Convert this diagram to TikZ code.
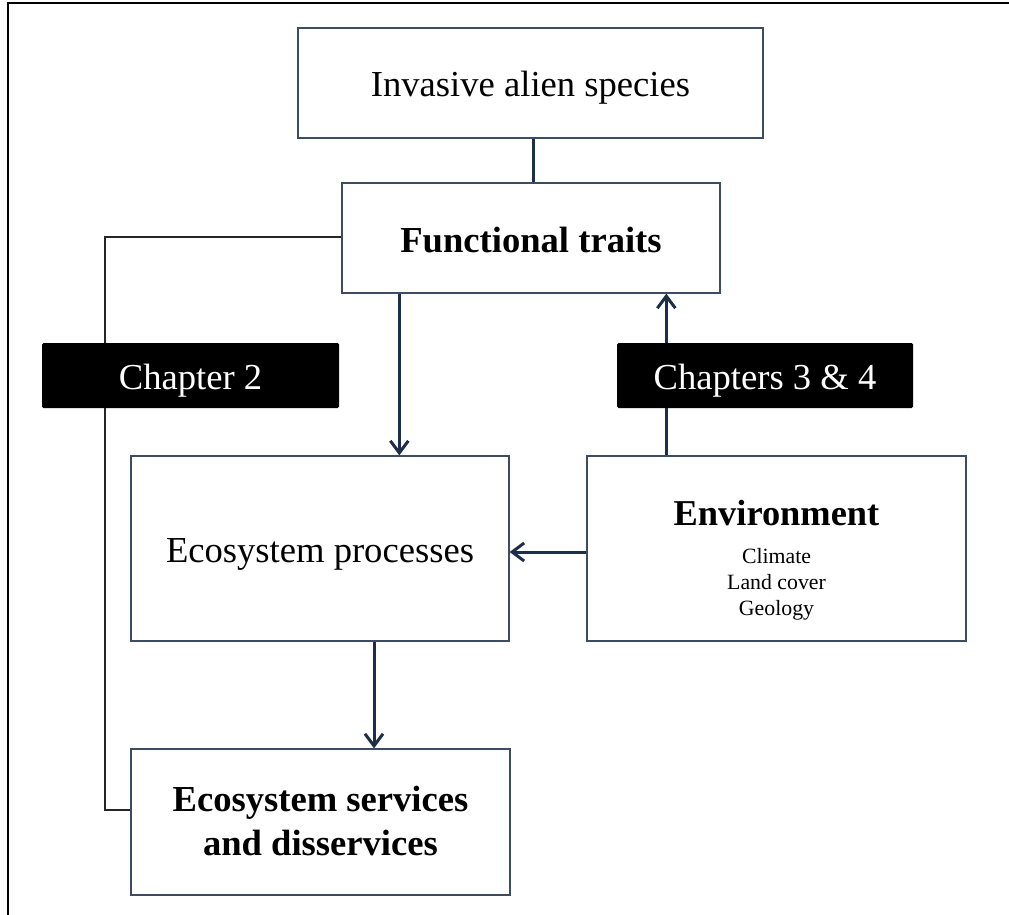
\documentclass[tikz,border=0pt]{standalone}
\usepackage{fontspec}
\setmainfont{Liberation Serif}
\usetikzlibrary{arrows.meta,calc}
\definecolor{boxline}{RGB}{62,76,98}
\definecolor{navy}{RGB}{28,46,74}
\begin{document}
\begin{tikzpicture}[x=1pt,y=-1pt,
  box/.style={draw=boxline,line width=1.3pt,fill=white,inner sep=0pt,
    text height=34pt,text depth=6pt,
    font=\fontsize{36.6}{44}\selectfont,align=center},
  chapbox/.style={fill=black,rounded corners=1.5pt,text=white,inner sep=0pt,
    text height=34pt,text depth=6pt,
    minimum width=297pt,minimum height=65pt,font=\fontsize{36.6}{44}\selectfont},
  link/.style={draw=navy,line width=3pt},
  arr/.style={link,-{Straight Barb[length=12pt,width=18pt]}},
  bracket/.style={draw=black!85,line width=2pt}]
\useasboundingbox (0,0) rectangle (1009,915);
% page frame
\draw[line width=2.2pt] (8,915) -- (8,3) -- (1009,3);

% boxes
\node[box,minimum width=465pt,minimum height=110pt] (ias) at (530.5,83) {Invasive alien species};
\node[box,minimum width=378pt,minimum height=110pt] (ft) at (531,238) {\bfseries Functional traits};
\node[box,minimum width=378pt,minimum height=185pt] (ep) at (320,548.5) {Ecosystem processes};
\node[box,minimum width=379pt,minimum height=185pt] (env) at (776.5,548.5) {};
\node[anchor=base,inner sep=0pt,font=\fontsize{36.4}{44}\selectfont\bfseries] (envt) at (776.5,525) {Environment};
\node[anchor=base,inner sep=0pt,align=center,font=\fontsize{21.8}{26}\selectfont] (envl) at (776.5,615) {Climate\\Land cover\\Geology};
\node[box,minimum width=379pt,minimum height=146pt] (es) at (320.5,822) {};
\node[anchor=base,inner sep=0pt,align=center,font=\fontsize{36.6}{43.3}\selectfont\bfseries] (est) at (320.5,855) {Ecosystem services\\and disservices};

% connectors
\coordinate (lx) at (105.3,0);
\coordinate (esin) at ([yshift=12pt]es.west);
\draw[bracket] ([yshift=1pt]ft.west) -- ([yshift=1pt]ft.west -| lx) -- (lx |- esin) -- (esin);
\draw[link] ([xshift=2.5pt]ias.south) -- ([xshift=2.5pt]ias.south |- ft.north);
\draw[arr] ([xshift=58pt]ft.south west) -- ([xshift=58pt]ft.south west |- ep.north);
\draw[arr] ([xshift=80pt]env.north west) -- ([xshift=80pt]env.north west |- ft.south);
\draw[arr] ([yshift=-3.5pt]env.west) -- ([yshift=-3.5pt]env.west -| ep.east);
\draw[arr] ([xshift=54pt]ep.south) -- ([xshift=54pt]ep.south |- es.north);

% chapter labels
\node[chapbox] (ch2) at (190.5,375.5) {Chapter 2};
\node[chapbox,minimum width=296pt] (ch34) at (765,375.5) {Chapters 3 \& 4};
\end{tikzpicture}
\end{document}
